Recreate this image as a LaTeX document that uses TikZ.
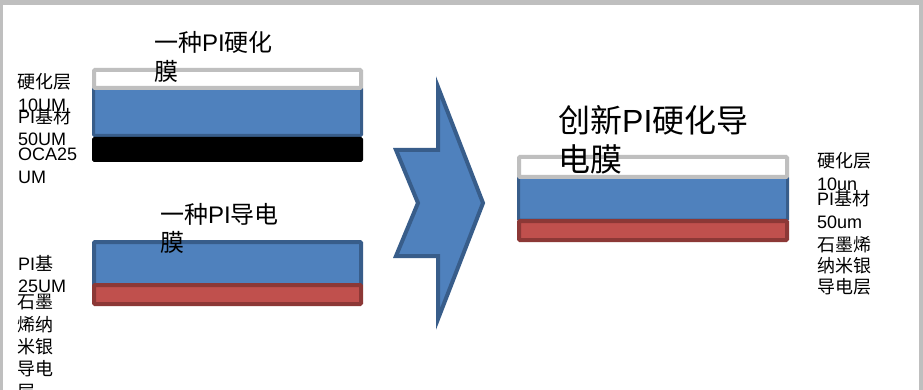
\documentclass[tikz,border=0pt]{standalone}
\usepackage{fontspec}
\setmainfont{Liberation Sans}
\newfontfamily\cjkfont{Noto Sans CJK SC}
\newcommand\zhtext[1]{{\cjkfont #1}}
\definecolor{pifill}{HTML}{4F81BD}
\definecolor{piline}{HTML}{385D8A}
\definecolor{redfill}{HTML}{C0504D}
\definecolor{redline}{HTML}{8C3836}
\definecolor{framegray}{HTML}{BFBFBF}
\tikzset{
  lbl/.style={anchor=base west, inner sep=0pt, font=\fontsize{18}{22}\selectfont},
  ttl/.style={anchor=base west, inner sep=0pt, font=\fontsize{24}{28}\selectfont},
  bigttl/.style={anchor=base west, inner sep=0pt, font=\fontsize{32}{38}\selectfont},
  hardlayer/.style={draw=framegray, line width=4pt, fill=white, rounded corners=1pt},
  pilayer/.style={draw=piline, line width=3pt, fill=pifill, rounded corners=1pt},
  redlayer/.style={draw=redline, line width=4pt, fill=redfill, rounded corners=1pt},
  ocalayer/.style={draw=black, line width=1pt, fill=black, rounded corners=1.5pt},
}
\begin{document}
\begin{tikzpicture}[x=1pt,y=-1pt]
\fill[white] (0,0) rectangle (923,390);
\useasboundingbox (0,0) rectangle (923,390);
% frame
\fill[framegray] (0,0) rectangle (923,5);
\fill[framegray] (0,0) rectangle (3,390);
\fill[framegray] (918.5,0) rectangle (923,390);

% ---- top-left stack: PI hardened film
\draw[pilayer] (93.5,88) rectangle (361.5,135.5);
\draw[ocalayer] (92.5,137.5) rectangle (362.5,161.5);
\draw[hardlayer] (94,70) rectangle (361,88);
\node[ttl] (t1a) at (154,52) {\zhtext{一种}PI\zhtext{硬化}};
\node[ttl] (t1b) at (154,81) {\zhtext{膜}};
\node[lbl] (l1a) at (17,89) {\zhtext{硬化层}};
\node[lbl] (l1b) at (18,112) {10UM};
\node[lbl] (l1c) at (18,124) {PI\zhtext{基材}};
\node[lbl] (l1d) at (18,146) {50UM};
\node[lbl] (l1e) at (18,161) {OCA25};
\node[lbl] (l1f) at (18,183) {UM};

% ---- bottom-left stack: PI conductive film
\draw[pilayer, line width=4pt] (94,242) rectangle (361,285);
\draw[redlayer] (94,285) rectangle (361,304);
\node[ttl] (t2a) at (160,223) {\zhtext{一种}PI\zhtext{导电}};
\node[ttl] (t2b) at (160,251) {\zhtext{膜}};
\node[lbl] (l2a) at (18,270) {PI\zhtext{基}};
\node[lbl] (l2b) at (18,292) {25UM};
\node[lbl] (l2c) at (17,308) {\zhtext{石墨}};
\node[lbl] (l2d) at (17,331) {\zhtext{烯纳}};
\node[lbl] (l2e) at (17,353) {\zhtext{米银}};
\node[lbl] (l2f) at (17,375) {\zhtext{导电}};
\node[lbl] (l2g) at (17,398) {\zhtext{层}};

% ---- notched arrow
\draw[draw=piline, fill=pifill, line width=4pt, line join=miter]
  (438,150) -- (438,87) -- (483,203) -- (438,319) -- (438,256)
  -- (396,256) -- (418,203) -- (396,150) -- cycle;

% ---- right stack: innovative film
\draw[pilayer] (518.5,177) rectangle (787.5,220);
\draw[redlayer] (519,221) rectangle (787,240);
\draw[hardlayer] (519,157) rectangle (787,177);
\node[bigttl] (t3a) at (558,133) {\zhtext{创新}PI\zhtext{硬化导}};
\node[bigttl] (t3b) at (558,172) {\zhtext{电膜}};
\node[lbl] (r1) at (817,168) {\zhtext{硬化层}};
\node[lbl] (r2) at (817,190) {10un};
\node[lbl] (r3) at (817,205) {PI\zhtext{基材}};
\node[lbl] (r4) at (817,228) {50um};
\node[lbl] (r5) at (817,251) {\zhtext{石墨烯}};
\node[lbl] (r6) at (817,272) {\zhtext{纳米银}};
\node[lbl] (r7) at (817,293) {\zhtext{导电层}};
\end{tikzpicture}
\end{document}
